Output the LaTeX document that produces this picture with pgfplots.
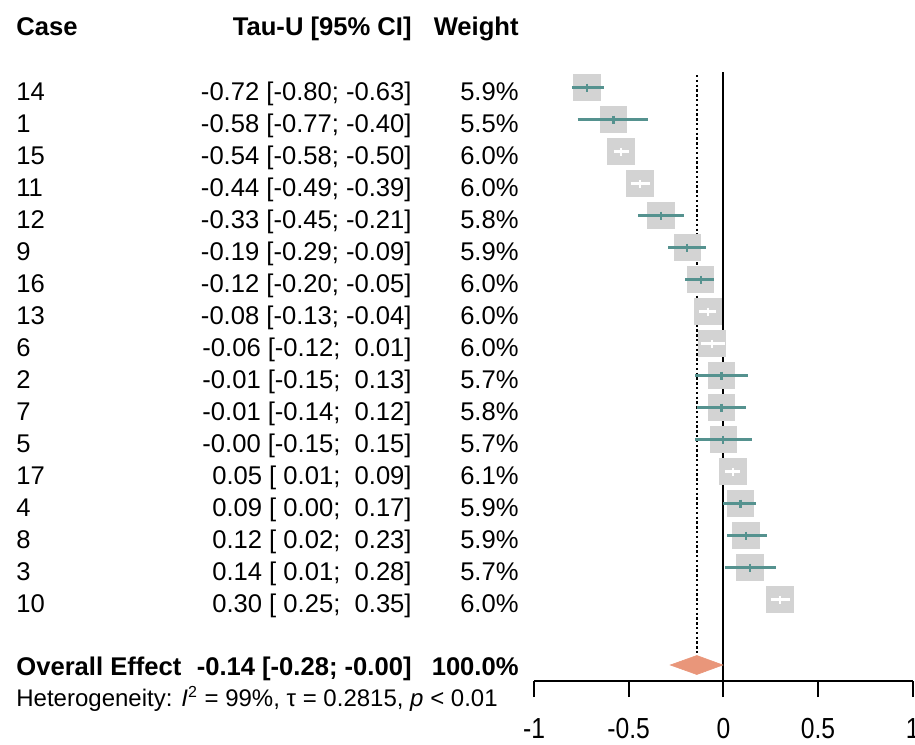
\documentclass[border=0pt]{standalone}
\usepackage{fontspec}
\setmainfont{Liberation Sans}
\newfontfamily\tickfont[FakeStretch=0.85]{Liberation Sans}
\usepackage{pgfplots}
\pgfplotsset{compat=1.18}
\usepackage{pgfplotstable}
\definecolor{boxgray}{HTML}{D3D3D3}
\definecolor{citeal}{HTML}{55928F}
\definecolor{diam}{HTML}{E9967A}

% y: row position (px, negative), est: Tau-U estimate
\pgfplotstableread{
y est
-87.5 -0.72
-119.5 -0.58
-151.5 -0.54
-183.5 -0.44
-215.5 -0.33
-247.5 -0.19
-279.5 -0.12
-311.5 -0.08
-343.5 -0.06
-375.5 -0.01
-407.5 -0.01
-439.5 -0.00
-471.5 0.05
-503.5 0.09
-535.5 0.12
-567.5 0.14
-599.5 0.30
}\allrows

\pgfplotstableread{
y est
-87.5 -0.72
-119.5 -0.58
-215.5 -0.33
-247.5 -0.19
-279.5 -0.12
-375.5 -0.01
-407.5 -0.01
-439.5 -0.00
-503.5 0.09
-535.5 0.12
-567.5 0.14
}\tealrows

\pgfplotstableread{
y est
-151.5 -0.54
-183.5 -0.44
-311.5 -0.08
-343.5 -0.06
-471.5 0.05
-599.5 0.30
}\whiterows

\newcommand\rowtext[4]{%
  \node[anchor=base west] at (16,{100.5+32*#1}) {#2};
  \node[anchor=base east] at (412,{100.5+32*#1}) {#3};
  \node[anchor=base east] at (519,{100.5+32*#1}) {#4};}

\begin{document}
\begin{tikzpicture}[font=\fontsize{12.8}{15}\selectfont]
\useasboundingbox (0,0) rectangle (457.5pt,-372pt);
\begin{axis}[
  at={(267pt,-340.5pt)}, anchor=south west,
  scale only axis, width=189.35pt, height=340.5pt,
  xmin=-1, xmax=1, ymin=-681, ymax=0,
  axis x line=bottom, axis y line=none,
  axis line style={-, line width=0.9pt, black},
  xtick={-1,-0.5,0,0.5,1},
  xticklabels={-1,-0.5,0,0.5,1},
  tick align=outside, major tick length=8pt,
  xtick style={line width=0.9pt, black},
  xticklabel style={font=\tickfont\fontsize{14.5}{16}\selectfont, anchor=base, yshift=-20.5pt, inner sep=0pt},
  clip=false, clip marker paths=true,
  unbounded coords=jump,
]
\addplot[black, line width=0.9pt] coordinates {(0,-72) (0,-681)};
\addplot[black, line width=0.9pt, dash pattern=on 1.2pt off 1.2pt] coordinates {(-0.14,-75) (-0.14,-653)};
\addplot[only marks, mark=square*, mark size=6.67pt, mark options={boxgray, line width=0pt}] table[x=est,y=y]{\allrows};
% confidence intervals reaching beyond the box (teal)
\addplot[draw=citeal, line width=1.1pt, mark=none] coordinates {
 (-0.80,-87.5) (-0.63,-87.5) (nan,nan)
 (-0.77,-119.5) (-0.40,-119.5) (nan,nan)
 (-0.45,-215.5) (-0.21,-215.5) (nan,nan)
 (-0.29,-247.5) (-0.09,-247.5) (nan,nan)
 (-0.20,-279.5) (-0.05,-279.5) (nan,nan)
 (-0.15,-375.5) (0.13,-375.5) (nan,nan)
 (-0.14,-407.5) (0.12,-407.5) (nan,nan)
 (-0.15,-439.5) (0.15,-439.5) (nan,nan)
 (0.00,-503.5) (0.17,-503.5) (nan,nan)
 (0.02,-535.5) (0.23,-535.5) (nan,nan)
 (0.01,-567.5) (0.28,-567.5)
};
% confidence intervals within the box (white)
\addplot[draw=white, line width=1.1pt, mark=none] coordinates {
 (-0.58,-151.5) (-0.50,-151.5) (nan,nan)
 (-0.49,-183.5) (-0.39,-183.5) (nan,nan)
 (-0.13,-311.5) (-0.04,-311.5) (nan,nan)
 (-0.12,-343.5) (0.01,-343.5) (nan,nan)
 (0.01,-471.5) (0.09,-471.5) (nan,nan)
 (0.25,-599.5) (0.35,-599.5)
};
\addplot[only marks, mark=|, mark size=2pt, mark options={citeal, line width=1.1pt}] table[x=est,y=y]{\tealrows};
\addplot[only marks, mark=|, mark size=2pt, mark options={white, line width=1.1pt}] table[x=est,y=y]{\whiterows};
\addplot[fill=diam, draw=diam, line width=0.3pt] coordinates {(-0.28,-665) (-0.14,-655.5) (-0.003,-665) (-0.14,-674.5)} -- cycle;
\end{axis}
\begin{scope}[x=0.5pt, y=-0.5pt, every node/.style={inner sep=0pt}]
  \node[anchor=base west, font=\fontsize{12.8}{15}\selectfont\bfseries] at (16,35) {Case};
  \node[anchor=base east, font=\fontsize{12.8}{15}\selectfont\bfseries] at (412,35) {Tau-U [95\% CI]};
  \node[anchor=base east, font=\fontsize{12.8}{15}\selectfont\bfseries] at (519,35) {Weight};
  \rowtext{0}{14}{-0.72 [-0.80; -0.63]}{5.9\%}
  \rowtext{1}{1}{-0.58 [-0.77; -0.40]}{5.5\%}
  \rowtext{2}{15}{-0.54 [-0.58; -0.50]}{6.0\%}
  \rowtext{3}{11}{-0.44 [-0.49; -0.39]}{6.0\%}
  \rowtext{4}{12}{-0.33 [-0.45; -0.21]}{5.8\%}
  \rowtext{5}{9}{-0.19 [-0.29; -0.09]}{5.9\%}
  \rowtext{6}{16}{-0.12 [-0.20; -0.05]}{6.0\%}
  \rowtext{7}{13}{-0.08 [-0.13; -0.04]}{6.0\%}
  \rowtext{8}{6}{-0.06 [-0.12;~~0.01]}{6.0\%}
  \rowtext{9}{2}{-0.01 [-0.15;~~0.13]}{5.7\%}
  \rowtext{10}{7}{-0.01 [-0.14;~~0.12]}{5.8\%}
  \rowtext{11}{5}{-0.00 [-0.15;~~0.15]}{5.7\%}
  \rowtext{12}{17}{0.05 [~0.01;~~0.09]}{6.1\%}
  \rowtext{13}{4}{0.09 [~0.00;~~0.17]}{5.9\%}
  \rowtext{14}{8}{0.12 [~0.02;~~0.23]}{5.9\%}
  \rowtext{15}{3}{0.14 [~0.01;~~0.28]}{5.7\%}
  \rowtext{16}{10}{0.30 [~0.25;~~0.35]}{6.0\%}
  \node[anchor=base west, font=\fontsize{12.8}{15}\selectfont\bfseries] at (16,675) {Overall Effect};
  \node[anchor=base east, font=\fontsize{12.8}{15}\selectfont\bfseries] at (412,675) {-0.14 [-0.28; -0.00]};
  \node[anchor=base east, font=\fontsize{12.8}{15}\selectfont\bfseries] at (519,675) {100.0\%};
  \node[anchor=base west, font=\fontsize{12}{14}\selectfont] at (16,706) {Heterogeneity: \textit{I}\textsuperscript{2} = 99\%, τ = 0.2815, \textit{p} < 0.01};
\end{scope}
\end{tikzpicture}
\end{document}
